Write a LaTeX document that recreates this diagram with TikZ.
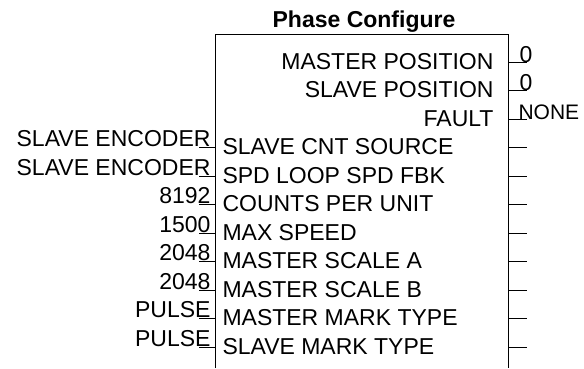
\documentclass[tikz,border=0pt]{standalone}
\usepackage{fontspec}
\setmainfont{Liberation Sans}
\usetikzlibrary{positioning,calc}

\begin{document}
\begin{tikzpicture}[x=1pt, y=1pt, line width=1pt,
  lbl/.style={font=\fontsize{23}{27}\selectfont, inner sep=0pt},
  inlbl/.style={lbl, anchor=base west},
  outlbl/.style={lbl, anchor=base east},
  inval/.style={lbl, anchor=base east},
  outval/.style={lbl, anchor=base west}]
\useasboundingbox (0,0) rectangle (584,-368);

% Block title
\node[lbl, font=\fontsize{23}{27}\selectfont\bfseries, anchor=base] (title) at (364,-27) {Phase Configure};

% Block outline (runs off the bottom)
\coordinate (blkBL) at (215,-368);
\coordinate (blkTL) at (215,-34);
\coordinate (blkTR) at (508,-34);
\coordinate (blkBR) at (508,-368);
\draw (blkBL) -- (blkTL) -- (blkTR) -- (blkBR);

% Outputs
\node[outlbl] (mpos) at (494,-69) {MASTER POSITION};
\coordinate (mposR) at (508,-62); \coordinate (mposRend) at (527,-62);
\draw (mposR) -- (mposRend);
\node[outval] (mposv) at (519,-62) {0};

\node[outlbl] (spos) at (494,-97.5) {SLAVE POSITION};
\coordinate (sposR) at (508,-90.5); \coordinate (sposRend) at (527,-90.5);
\draw (sposR) -- (sposRend);
\node[outval] (sposv) at (519,-90.5) {0};

\node[outlbl] (fault) at (494,-126) {FAULT};
\coordinate (faultR) at (508,-119); \coordinate (faultRend) at (527,-119);
\draw (faultR) -- (faultRend);
\node[outval, font=\fontsize{21}{25}\selectfont] (faultv) at (518,-119) {NONE};

% Inputs
\node[inlbl] (cnt) at (222,-154.5) {SLAVE CNT SOURCE};
\coordinate (cntL) at (215,-147.5); \coordinate (cntLend) at (199,-147.5);
\coordinate (cntR) at (508,-147.5); \coordinate (cntRend) at (527,-147.5);
\draw (cntLend) -- (cntL);
\draw (cntR) -- (cntRend);
\node[inval] (cntv) at (211,-146.5) {SLAVE ENCODER};

\node[inlbl] (fbk) at (222,-183) {SPD LOOP SPD FBK};
\coordinate (fbkL) at (215,-176); \coordinate (fbkLend) at (199,-176);
\coordinate (fbkR) at (508,-176); \coordinate (fbkRend) at (527,-176);
\draw (fbkLend) -- (fbkL);
\draw (fbkR) -- (fbkRend);
\node[inval] (fbkv) at (211,-175) {SLAVE ENCODER};

\node[inlbl] (cpu) at (222,-211.5) {COUNTS PER UNIT};
\coordinate (cpuL) at (215,-204.5); \coordinate (cpuLend) at (199,-204.5);
\coordinate (cpuR) at (508,-204.5); \coordinate (cpuRend) at (527,-204.5);
\draw (cpuLend) -- (cpuL);
\draw (cpuR) -- (cpuRend);
\node[inval] (cpuv) at (211,-203.5) {8192};

\node[inlbl] (maxspd) at (222,-240) {MAX SPEED};
\coordinate (maxspdL) at (215,-233); \coordinate (maxspdLend) at (199,-233);
\coordinate (maxspdR) at (508,-233); \coordinate (maxspdRend) at (527,-233);
\draw (maxspdLend) -- (maxspdL);
\draw (maxspdR) -- (maxspdRend);
\node[inval] (maxspdv) at (211,-232) {1500};

\node[inlbl] (scla) at (222,-268.5) {MASTER SCALE A};
\coordinate (sclaL) at (215,-261.5); \coordinate (sclaLend) at (199,-261.5);
\coordinate (sclaR) at (508,-261.5); \coordinate (sclaRend) at (527,-261.5);
\draw (sclaLend) -- (sclaL);
\draw (sclaR) -- (sclaRend);
\node[inval] (sclav) at (211,-260.5) {2048};

\node[inlbl] (sclb) at (222,-297) {MASTER SCALE B};
\coordinate (sclbL) at (215,-290); \coordinate (sclbLend) at (199,-290);
\coordinate (sclbR) at (508,-290); \coordinate (sclbRend) at (527,-290);
\draw (sclbLend) -- (sclbL);
\draw (sclbR) -- (sclbRend);
\node[inval] (sclbv) at (211,-289) {2048};

\node[inlbl] (mmark) at (222,-325.5) {MASTER MARK TYPE};
\coordinate (mmarkL) at (215,-318.5); \coordinate (mmarkLend) at (199,-318.5);
\coordinate (mmarkR) at (508,-318.5); \coordinate (mmarkRend) at (527,-318.5);
\draw (mmarkLend) -- (mmarkL);
\draw (mmarkR) -- (mmarkRend);
\node[inval] (mmarkv) at (211,-317.5) {PULSE};

\node[inlbl] (smark) at (222,-354) {SLAVE MARK TYPE};
\coordinate (smarkL) at (215,-347); \coordinate (smarkLend) at (199,-347);
\coordinate (smarkR) at (508,-347); \coordinate (smarkRend) at (527,-347);
\draw (smarkLend) -- (smarkL);
\draw (smarkR) -- (smarkRend);
\node[inval] (smarkv) at (211,-346) {PULSE};
\end{tikzpicture}
\end{document}
